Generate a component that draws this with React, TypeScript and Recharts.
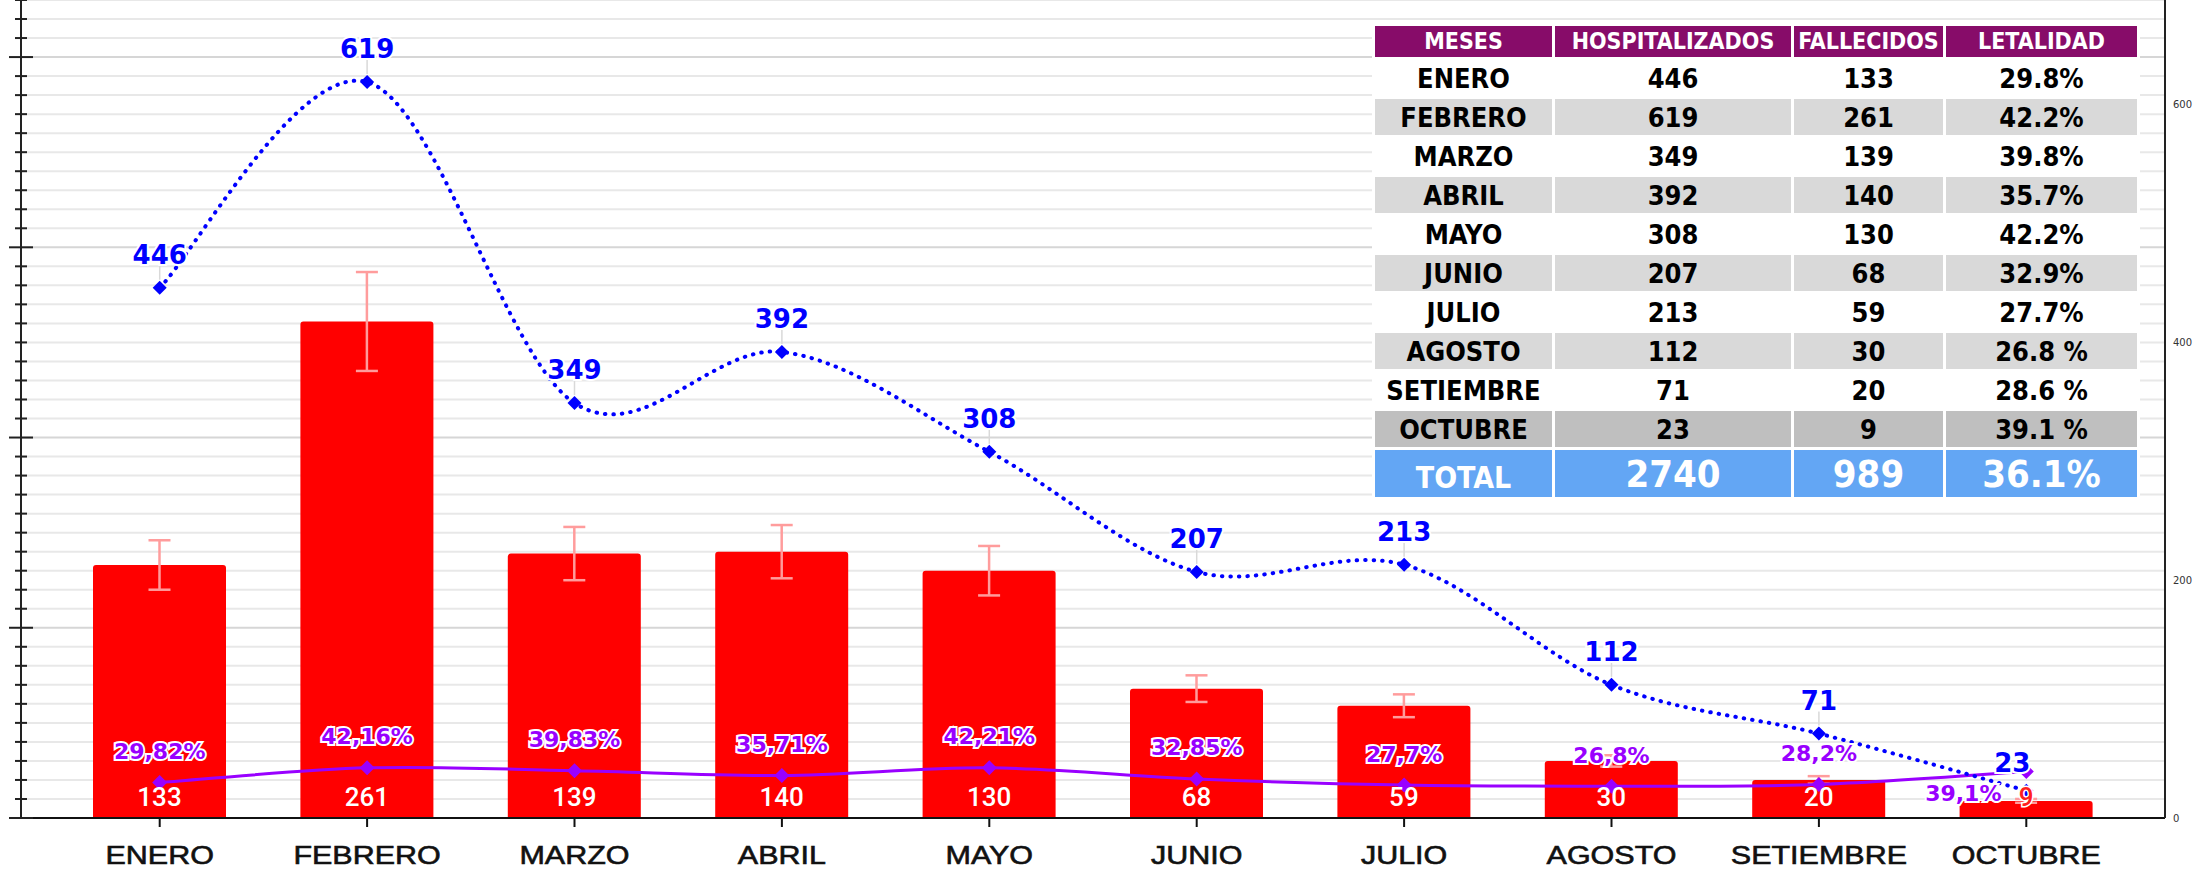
import { ComposedChart, Bar, Line, XAxis, YAxis, CartesianGrid, ErrorBar, LabelList } from 'recharts';

const meses = ['ENERO', 'FEBRERO', 'MARZO', 'ABRIL', 'MAYO', 'JUNIO', 'JULIO', 'AGOSTO', 'SETIEMBRE', 'OCTUBRE'];
const hospitalizados = [446, 619, 349, 392, 308, 207, 213, 112, 71, 23];
const fallecidos = [133, 261, 139, 140, 130, 68, 59, 30, 20, 9];
const errorFallecidos = [13, 26, 14, 14, 13, 7, 6, 3, 2, 1];
const letalidad = [29.82, 42.16, 39.83, 35.71, 42.21, 32.85, 27.7, 26.8, 28.2, 39.1];
const letalidadLabels = ['29,82%', '42,16%', '39,83%', '35,71%', '42,21%', '32,85%', '27,7%', '26,8%', '28,2%', '39,1%'];

// table in the top right corner
const tablaHeader = ['MESES', 'HOSPITALIZADOS', 'FALLECIDOS', 'LETALIDAD'];
const tablaLetalidad = ['29.8%', '42.2%', '39.8%', '35.7%', '42.2%', '32.9%', '27.7%', '26.8 %', '28.6 %', '39.1 %'];
const tablaTotal = ['TOTAL', '2740', '989', '36.1%'];

const leftTicks = Array.from({ length: 44 }, (_, i) => i * 10);
const rightTicks = [0, 200, 400, 600];

const data = meses.map((mes, i) => ({
    mes,
    hosp: hospitalizados[i],
    fall: fallecidos[i],
    err: errorFallecidos[i],
    let: letalidad[i],
    letLabel: letalidadLabels[i],
}));

const BLUE = '#0000FF';
const PURPLE = '#9900FF';
const RED = '#FF0000';

// excel-like smoothed line (catmull-rom through the points)
const excelSmooth = (context: any) => {
    let pts: number[][] = [];
    return {
        areaStart() {},
        areaEnd() {},
        lineStart() { pts = []; },
        point(x: number, y: number) { pts.push([+x, +y]); },
        lineEnd() {
            if (!pts.length) return;
            context.moveTo(pts[0][0], pts[0][1]);
            for (let i = 0; i < pts.length - 1; i++) {
                const p0 = pts[Math.max(i - 1, 0)];
                const p1 = pts[i];
                const p2 = pts[i + 1];
                const p3 = pts[Math.min(i + 2, pts.length - 1)];
                context.bezierCurveTo(
                    p1[0] + (p2[0] - p0[0]) / 6, p1[1] + (p2[1] - p0[1]) / 6,
                    p2[0] - (p3[0] - p1[0]) / 6, p2[1] - (p3[1] - p1[1]) / 6,
                    p2[0], p2[1]
                );
            }
        },
    };
};

const pos = (p: any) => {
    const vb = p.viewBox || {};
    return {
        x: vb.x ?? p.x,
        y: vb.y ?? p.y,
        width: vb.width ?? p.width ?? 0,
        height: vb.height ?? p.height ?? 0,
    };
};

const diamond = (fill: string, r: number) => (p: any) => {
    const { cx, cy, index } = p;
    if (cx == null || cy == null) return <g key={index} />;
    return <path key={index} d={`M${cx},${cy - r}L${cx + r},${cy}L${cx},${cy + r}L${cx - r},${cy}Z`} fill={fill} />;
};

const BarValue = (p: any) => {
    const { x, y, width, height } = pos(p);
    const small = height < 28;
    return (
        <text x={x + width / 2} y={y + height - 21} textAnchor="middle" dominantBaseline="central"
            fontSize={26} fontWeight={500} fontFamily="Roboto, sans-serif"
            fill={small ? '#FF2020' : '#fff'} stroke={small ? '#fff' : 'none'} strokeWidth={3} paintOrder="stroke">
            {p.value}
        </text>
    );
};

const HospLabel = (p: any) => {
    const { x, y } = pos(p);
    const last = p.index === meses.length - 1;
    return (
        <g>
            {!last && <line x1={x} x2={x} y1={y - 22} y2={y - 8} stroke="#D9D9D9" strokeWidth={1.5} />}
            <text x={last ? x - 14 : x} y={last ? y - 28 : y - 33} textAnchor="middle" dominantBaseline="central"
                fontSize={26} fontWeight="bold" fontFamily="'DejaVu Sans', sans-serif"
                fill={BLUE} stroke="#fff" strokeWidth={4} paintOrder="stroke">
                {p.value}
            </text>
        </g>
    );
};

const LetLabel = (p: any) => {
    const { x, y } = pos(p);
    const last = p.index === meses.length - 1;
    return (
        <text x={last ? x - 63 : x} y={last ? y + 22 : y - 31} textAnchor="middle" dominantBaseline="central"
            fontSize={22} fontWeight="bold" fontFamily="'DejaVu Sans', sans-serif"
            fill={PURPLE} stroke="#fff" strokeWidth={4} paintOrder="stroke">
            {p.value}
        </text>
    );
};

const MonthTick = ({ x, y, payload }: any) => (
    <g transform={`translate(${x},${y + 28}) scale(1.22,1)`}>
        <text x={0} y={0} textAnchor="middle" dominantBaseline="central" fontSize={25}
            fontFamily="'Liberation Sans', Arial, sans-serif" fill="#111" stroke="#111" strokeWidth={0.6}>
            {payload.value}
        </text>
    </g>
);

const LeftTick = ({ x, y, payload }: any) => {
    const h = payload.value % 100 === 0 ? 12 : 6;
    return <line x1={x - h} x2={x + h} y1={y} y2={y} stroke="#222" strokeWidth={2} />;
};

const GridLine = (p: any) => (
    <line key={p.key ?? p.index} x1={p.x1} x2={p.x2} y1={p.y1} y2={p.y2}
        stroke={p.index % 10 === 0 ? '#D6D6D6' : '#E8E8E8'} strokeWidth={2} />
);

function Tabla() {
    const cell = { padding: 0, textAlign: 'center' as const, verticalAlign: 'middle' as const, lineHeight: 1 };
    const widths = [177, 236, 149, 191];
    return (
        <table style={{
            position: 'absolute', left: 1372, top: 23, borderCollapse: 'separate', borderSpacing: 3,
            background: '#fff', fontFamily: "'Liberation Sans Narrow', 'DejaVu Sans Condensed', sans-serif", fontWeight: 700,
        }}>
            <tbody>
                <tr style={{ height: 31 }}>
                    {tablaHeader.map((h, i) => (
                        <td key={h} style={{ ...cell, width: widths[i], background: '#870C69', color: '#fff', fontSize: 23 }}>{h}</td>
                    ))}
                </tr>
                {meses.map((mes, i) => {
                    const bg = i === meses.length - 1 ? '#BFBFBF' : i % 2 === 1 ? '#D9D9D9' : '#FFFFFF';
                    return (
                        <tr key={mes} style={{ height: 36 }}>
                            {[mes, hospitalizados[i], fallecidos[i], tablaLetalidad[i]].map((v, j) => (
                                <td key={j} style={{ ...cell, background: bg, color: '#000', fontSize: 27 }}>{v}</td>
                            ))}
                        </tr>
                    );
                })}
                <tr style={{ height: 47 }}>
                    {tablaTotal.map((v, j) => (
                        <td key={j} style={{ ...cell, background: '#63A6F4', color: '#fff', fontSize: j === 0 ? 30 : 38, paddingTop: j === 0 ? 8 : 0 }}>{v}</td>
                    ))}
                </tr>
            </tbody>
        </table>
    );
}

export default function App() {
    return (
        <div style={{ position: 'absolute', left: 0, top: 0, width: 2194, height: 872, overflow: 'hidden', background: '#fff' }}>
            <ComposedChart width={2194} height={872} data={data} margin={{ top: 0, right: 0, bottom: 0, left: 0 }}>
                <CartesianGrid yAxisId="left" vertical={false} horizontal={GridLine} />
                <XAxis dataKey="mes" height={54} padding={{ left: 35, right: 35 }} interval={0}
                    tickSize={9} tickMargin={0} tick={<MonthTick />}
                    axisLine={{ stroke: '#111', strokeWidth: 2 }} tickLine={{ stroke: '#111', strokeWidth: 2 }} />
                <YAxis yAxisId="left" orientation="left" width={21} domain={[0, 430]} ticks={leftTicks}
                    allowDataOverflow interval={0} tickSize={0} tickMargin={0} tickLine={false}
                    tick={<LeftTick />} axisLine={{ stroke: '#222', strokeWidth: 2 }} />
                <YAxis yAxisId="right" orientation="right" width={29} domain={[0, 688]} ticks={rightTicks}
                    allowDataOverflow interval={0} tickSize={0} tickMargin={8} tickLine={false}
                    tick={{ fontSize: 10, fill: '#333', fontFamily: "'DejaVu Sans', sans-serif" }}
                    axisLine={{ stroke: '#222', strokeWidth: 2 }} />

                <Bar yAxisId="left" dataKey="fall" fill={RED} barSize={133} radius={[3, 3, 0, 0]} isAnimationActive={false}>
                    <ErrorBar dataKey="err" width={11} stroke="#FF9C9C" strokeWidth={2.5} direction="y" isAnimationActive={false} />
                    <LabelList dataKey="fall" content={<BarValue />} />
                </Bar>

                <Line yAxisId="right" dataKey="let" type={excelSmooth as any} stroke={PURPLE} strokeWidth={3}
                    dot={diamond(PURPLE, 7.5)} activeDot={false} isAnimationActive={false}>
                    <LabelList dataKey="letLabel" content={<LetLabel />} />
                </Line>

                <Line yAxisId="right" dataKey="hosp" type={excelSmooth as any} stroke={BLUE} strokeWidth={4}
                    strokeDasharray="0.5 8" strokeLinecap="round"
                    dot={diamond(BLUE, 7)} activeDot={false} isAnimationActive={false}>
                    <LabelList dataKey="hosp" content={<HospLabel />} />
                </Line>
            </ComposedChart>
            <Tabla />
        </div>
    );
}
